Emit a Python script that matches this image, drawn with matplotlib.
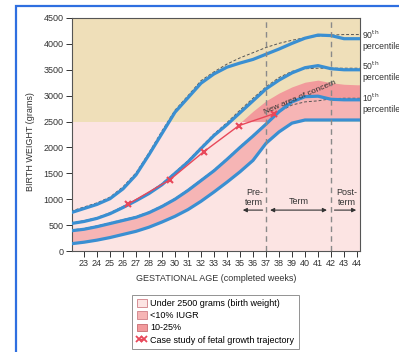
import numpy as np
import matplotlib
matplotlib.use("Agg")
import matplotlib.pyplot as plt
from matplotlib.patches import Patch, Rectangle
from matplotlib.lines import Line2D

plt.rcParams['font.family'] = ['Liberation Sans', 'DejaVu Sans']

# 孕周与各百分位体重曲线
weeks = [22, 23, 24, 25, 26, 27, 28, 29, 30, 31, 32, 33,
         34, 35, 36, 37, 38, 39, 40, 41, 42, 43, 44, 44.5]
p90 = [740, 820, 900, 1010, 1200, 1470, 1860, 2270, 2680, 2960, 3240, 3420,
       3550, 3630, 3700, 3800, 3900, 4010, 4110, 4170, 4160, 4100, 4100, 4100]
p90_ref = [770, 850, 930, 1040, 1240, 1510, 1900, 2320, 2720, 3000, 3290, 3460,
           3610, 3730, 3830, 3930, 4010, 4070, 4120, 4150, 4170, 4180, 4180, 4180]
p50 = [530, 570, 630, 720, 840, 970, 1110, 1280, 1500, 1720, 1980, 2230,
       2440, 2670, 2900, 3130, 3300, 3440, 3540, 3580, 3520, 3500, 3500, 3500]
p50_ref = [545, 585, 645, 740, 860, 990, 1130, 1300, 1520, 1745, 2005, 2260,
           2480, 2720, 2950, 3170, 3350, 3470, 3520, 3530, 3530, 3530, 3530, 3530]
p10 = [390, 420, 470, 530, 590, 650, 740, 860, 1000, 1170, 1360, 1550,
       1770, 2000, 2220, 2450, 2690, 2880, 2980, 2990, 2930, 2920, 2920, 2920]
p10_ref = [405, 435, 485, 545, 605, 665, 755, 875, 1015, 1185, 1375, 1565,
           1785, 2015, 2235, 2465, 2690, 2820, 2880, 2900, 2940, 2950, 2950, 2950]
p_low = [140, 170, 210, 260, 320, 380, 460, 560, 670, 800, 960, 1140,
         1330, 1530, 1750, 2080, 2300, 2470, 2530, 2530, 2530, 2530, 2530, 2530]

# 新关注区 (10-25%) 上边界
concern_weeks = [35.1, 36, 37, 38, 39, 40, 41, 42, 43, 44, 44.5]
concern_top = [2500, 2700, 2900, 3050, 3170, 3260, 3300, 3250, 3220, 3210, 3210]

# 病例胎儿生长轨迹
case_weeks = [26.4, 29.6, 32.2, 34.9, 37.6]
case_weight = [905, 1375, 1915, 2420, 2650]

LOW_WEIGHT = 2500
C_TAN = '#efdfb9'
C_LIGHT = '#fce4e3'
C_MID = '#f6b5b5'
C_DARK = '#f29a9c'
C_BLUE = '#3a8fd2'
C_RED = '#e8485a'

fig = plt.figure(figsize=(3.99, 3.52), dpi=100)
ax = fig.add_axes([0.1805, 0.2869, 0.7218, 0.662])
ax.set_xlim(22.08, 44.23)
ax.set_ylim(0, 4500)
ax.set_facecolor(C_TAN)

# 背景分区
ax.axhspan(0, LOW_WEIGHT, color=C_LIGHT, lw=0, zorder=0)
ax.fill_between(weeks, p_low, p10, color=C_MID, lw=0, zorder=1)
cw = np.array(concern_weeks)
lower = np.maximum(np.interp(cw, weeks, p10), LOW_WEIGHT)
ax.fill_between(cw, lower, concern_top, color=C_DARK, lw=0, zorder=1)

# 参考虚线
for ref in (p90_ref, p50_ref, p10_ref):
    ax.plot(weeks, ref, color='#555555', ls=(0, (3, 2)), lw=0.7, zorder=2)

# 百分位曲线
for curve in (p90, p50, p10, p_low):
    ax.plot(weeks, curve, color=C_BLUE, lw=2.3, solid_capstyle='round',
            solid_joinstyle='round', zorder=3)

# 早产/足月/过期分界
for w in (37, 42):
    ax.axvline(w, color='#8a8a8a', ls=(0, (4, 3)), lw=1.0, zorder=4)

ax.plot(case_weeks, case_weight, color=C_RED, lw=1.0, marker='x', ms=5,
        mew=1.5, zorder=5)

ax.text(39.6, 2960, 'New area of concern', fontsize=6, rotation=23,
        ha='center', va='center', color='#333333', zorder=6)

# 箭头与标注
arrow_y = 790
akw = dict(color='#333333', lw=0.8, mutation_scale=6)
ax.annotate('', xy=(35.0, arrow_y), xytext=(36.95, arrow_y),
            arrowprops=dict(arrowstyle='-|>', **akw))
ax.annotate('', xy=(37.1, arrow_y), xytext=(41.9, arrow_y),
            arrowprops=dict(arrowstyle='<|-|>', **akw))
ax.annotate('', xy=(44.15, arrow_y), xytext=(42.05, arrow_y),
            arrowprops=dict(arrowstyle='-|>', **akw))
tkw = dict(fontsize=6.5, ha='center', va='center', color='#333333',
           linespacing=1.1)
ax.text(36.1, 1040, 'Pre-\nterm', **tkw)
ax.text(39.5, 950, 'Term', **tkw)
ax.text(43.2, 1040, 'Post-\nterm', **tkw)

# 右侧百分位标签
for label, yv in (('90', 4083), ('50', 3483), ('10', 2864)):
    ax.text(44.38, yv, label + r'$^{\rm th}$' + '\npercentile', fontsize=6.2,
            ha='left', va='center', color='#333333', clip_on=False,
            linespacing=1.1)

ax.set_xticks(range(23, 45))
ax.set_yticks(range(0, 4501, 500))
ax.tick_params(labelsize=6.5, length=4, width=0.7, colors='#333333',
               labelcolor='#333333', pad=2)
for sp in ax.spines.values():
    sp.set_color('#555555')
    sp.set_linewidth(0.8)

ax.set_xlabel('GESTATIONAL AGE (completed weeks)', fontsize=6.5,
              color='#333333', labelpad=4)
ax.set_ylabel('BIRTH WEIGHT (grams)', fontsize=6.5, color='#333333')
ax.yaxis.set_label_coords(-0.13, 0.47)

# 图例
handles = [
    Patch(facecolor=C_LIGHT, edgecolor='#d07f86', lw=0.6,
          label='Under 2500 grams (birth weight)'),
    Patch(facecolor=C_MID, edgecolor='#d07f86', lw=0.6, label='<10% IUGR'),
    Patch(facecolor=C_DARK, edgecolor='#c86a70', lw=0.6, label='10-25%'),
    Line2D([0, 1], [0, 0], color=C_RED, lw=1.0, marker='x', ms=4, mew=1.3,
           label='Case study of fetal growth trajectory'),
]
leg = fig.legend(handles=handles, loc='upper left',
                 bbox_to_anchor=(0.331, 0.163), fontsize=6.5, frameon=True,
                 fancybox=False, edgecolor='#777777', numpoints=2,
                 handlelength=1.1, handleheight=0.9, handletextpad=0.4,
                 labelspacing=0.35, borderpad=0.5, borderaxespad=0)
leg.get_frame().set_linewidth(0.7)

# 外框蓝线
fig.patches.append(Rectangle((16 / 399, -0.1), 2, 1.083, fill=False,
                             edgecolor='#2f6fe0', lw=1.6,
                             transform=fig.transFigure, figure=fig))

fig.savefig('out.png', dpi=100, facecolor='white')
